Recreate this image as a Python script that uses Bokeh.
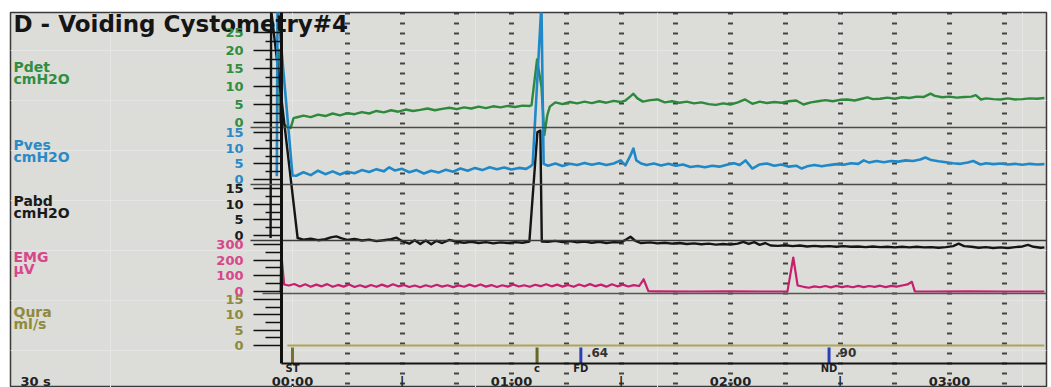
from bokeh.plotting import figure
from bokeh.models import Range1d, LinearAxis, FixedTicker, Grid, ColumnDataSource
from bokeh.core.properties import value
from bokeh.embed import file_html
from bokeh.resources import INLINE

# ---------------- data ----------------
TITLE = "D - Voiding Cystometry#4"

CHANNEL_NAMES = ["Pdet", "Pves", "Pabd", "EMG", "Qura"]
CHANNEL_UNITS = ["cmH2O", "cmH2O", "cmH2O", "µV", "ml/s"]
CHANNEL_TICKS = [[0, 5, 10, 15, 20, 25], [0, 5, 10, 15], [0, 5, 10, 15],
                 [0, 100, 200, 300], [0, 5, 10, 15]]
CHANNEL_MINOR = [[2.5, 7.5, 12.5, 17.5, 22.5], [2.5, 7.5, 12.5], [2.5, 7.5, 12.5],
                 [50, 150, 250], [2.5, 7.5, 12.5]]

# (time s, value)
PDET = [(-3.8, 20.5), (-3.4, 0.5), (-2.0, -0.8), (-0.5, -1.5), (0.3, 1.2), (1, 1.4), (3, 1.9),
        (5, 1.5), (7, 2.2), (9, 1.8), (11, 2.5), (13, 2.0), (15, 2.6), (17, 2.3), (19, 2.9),
        (21, 2.5), (23, 3.2), (25, 2.8), (27, 3.4), (29, 3.0), (31, 3.6), (33, 3.2), (35, 3.5),
        (37, 3.9), (39, 3.4), (41, 3.8), (43, 4.1), (45, 3.7), (47, 4.2), (49, 3.9), (51, 4.4),
        (53, 4.0), (55, 4.5), (57, 4.2), (59, 4.6), (61, 4.3), (63, 4.7), (65, 4.6), (65.5, 4.8),
        (67.0, 17.5), (68.2, 10.0), (69.0, -3.5), (69.8, 2.0), (70.5, 4.4), (72, 5.6), (74, 5.1),
        (76, 5.7), (78, 5.3), (80, 5.8), (82, 5.4), (84, 5.9), (86, 5.5), (88, 6.0), (90, 5.7),
        (91.2, 6.1), (92.5, 7.2), (93.4, 8.0), (94.5, 6.7), (96, 5.8), (98, 6.2), (100, 6.4),
        (102, 5.6), (104, 5.9), (106, 5.5), (108, 5.8), (110, 5.3), (112, 5.6), (114, 5.1),
        (116, 4.9), (118, 5.3), (120, 5.0), (122, 5.6), (124, 6.4), (126, 5.2), (128, 5.8),
        (130, 5.4), (132, 5.7), (134, 5.5), (136, 5.9), (138, 6.1), (140, 5.0), (142, 5.6),
        (144, 5.9), (146, 6.2), (148, 5.9), (150, 6.3), (152, 6.4), (154, 6.1), (156, 6.6),
        (157.5, 7.0), (159, 6.5), (161, 6.6), (163, 6.9), (165, 6.6), (167, 7.0), (169, 6.8),
        (171, 7.2), (173, 7.1), (174.8, 8.0), (176, 7.4), (178, 7.0), (180, 7.2), (182, 6.9),
        (184, 7.1), (186, 7.2), (187.2, 7.6), (188.6, 6.4), (190, 6.7), (192, 6.5), (194, 6.4),
        (196, 6.7), (198, 6.4), (200, 6.5), (202, 6.7), (204, 6.6), (206, 6.8)]

PVES = [(-4.3, 1.0), (-4.1, 56.0), (0.0, 1.3), (1, 1.2), (3, 2.3), (5, 1.4), (7, 2.8), (9, 1.7),
        (11, 2.6), (13, 1.6), (15, 2.5), (17, 2.0), (19, 3.0), (21, 2.4), (23, 3.3), (25, 2.6),
        (26.5, 3.9), (28, 2.9), (30, 3.4), (32, 2.3), (34, 3.0), (36, 1.9), (38, 2.8), (40, 2.2),
        (42, 3.1), (44, 2.5), (46, 3.5), (48, 2.8), (50, 3.7), (52, 3.0), (54, 3.9), (56, 3.3),
        (58, 3.8), (60, 3.2), (62, 3.7), (64, 3.4), (65.3, 4.3), (65.8, 4.8), (68.2, 56.0),
        (68.8, 5.0), (70, 4.4), (72, 5.1), (74, 4.3), (76, 5.0), (78, 4.6), (80, 5.3), (82, 4.7),
        (84, 5.2), (86, 4.6), (88, 5.1), (89.9, 6.1), (91.2, 4.5), (92.6, 7.7), (93.4, 9.9),
        (94.2, 6.1), (95.5, 5.1), (97, 4.6), (99, 5.1), (101, 4.5), (103, 5.0), (105, 4.4),
        (107, 4.8), (109, 4.0), (111, 4.3), (113, 3.9), (115, 4.4), (117, 4.1), (119, 4.7),
        (121, 5.2), (122.5, 4.6), (124.1, 6.1), (126, 3.5), (128, 4.8), (130, 5.1), (132, 4.4),
        (134, 4.8), (136, 4.1), (138, 4.4), (139.5, 3.5), (141, 4.2), (143, 4.6), (145, 4.2),
        (147, 4.6), (149, 4.9), (151, 4.7), (153, 5.2), (155, 5.0), (156.5, 6.1), (158, 5.4),
        (160, 5.9), (162, 5.5), (164, 5.9), (166, 5.7), (168, 6.1), (170, 5.9), (172, 6.4),
        (173.4, 7.0), (175, 6.2), (177, 5.8), (179, 5.5), (181, 5.2), (183, 5.0), (185, 5.4),
        (186.5, 5.9), (188.5, 4.8), (190, 5.2), (192, 4.9), (194, 5.1), (196, 4.8), (198, 5.0),
        (200, 4.7), (202, 5.0), (204, 4.8), (206, 4.9)]

PABD = [(-6.0, -0.8), (-5.85, 72.0), (1.4, -0.8), (3, -1.3), (5, -1.0), (7, -1.5), (9, -1.2),
        (10.5, -0.6), (12, -0.3), (13.5, -0.9), (15, -1.4), (17, -1.1), (19, -1.6), (21, -1.3),
        (23, -1.8), (25, -1.5), (27, -1.2), (28.5, -0.7), (30, -1.8), (32, -2.6), (33.5, -1.5),
        (35, -2.7), (36.5, -1.6), (38, -2.8), (39.5, -1.7), (41, -2.4), (43, -1.4), (45, -2.0),
        (47, -2.3), (49, -2.0), (51, -2.4), (53, -2.1), (55, -2.5), (57, -2.2), (59, -2.4),
        (61, -2.1), (63, -2.3), (64.9, -1.9), (67.1, 33.0), (67.9, 33.5), (68.3, -1.9),
        (70, -2.0), (72, -1.7), (74, -2.1), (76, -1.8), (78, -2.2), (80, -1.9), (82, -2.3),
        (84, -2.0), (86, -2.4), (88, -2.1), (90, -2.2), (91.5, -1.2), (92.6, -0.4), (93.8, -1.6),
        (95.5, -2.4), (98, -2.2), (100, -2.5), (102, -2.3), (104, -2.6), (106, -2.4), (108, -2.7),
        (110, -2.5), (112, -2.8), (114, -2.6), (116, -2.9), (118, -2.7), (120, -2.9), (122, -2.6),
        (123.5, -2.0), (125, -2.7), (126.5, -2.1), (128, -3.0), (129.5, -2.4), (131, -3.2),
        (133, -3.3), (135, -3.1), (137, -3.4), (139, -3.2), (141, -3.5), (143, -3.3), (145, -3.5),
        (147, -3.4), (149, -3.6), (151, -3.4), (153, -3.6), (155, -3.5), (157, -3.7), (159, -3.5),
        (161, -3.7), (163, -3.6), (165, -3.8), (167, -3.6), (169, -3.8), (171, -3.6), (173, -3.8),
        (175, -3.7), (177, -3.9), (179, -3.7), (181, -3.4), (182.5, -2.6), (184, -3.4),
        (186, -3.6), (188, -3.9), (190, -3.7), (192, -4.0), (194, -3.8), (196, -4.0), (198, -3.7),
        (200, -3.5), (201.5, -3.0), (203, -3.6), (205, -3.9), (206, -3.8)]

EMG = [(-3.3, -8), (-3.1, 248), (-2.3, 45), (-1, 38), (0.5, 48), (2, 32), (3.5, 46), (5, 30),
       (6.5, 44), (8, 33), (9.5, 47), (11, 30), (12.5, 42), (14, 31), (15.5, 45), (17, 29),
       (18.5, 40), (20, 28), (21.5, 41), (23, 30), (24.5, 44), (26, 31), (27.5, 46), (29, 33),
       (30.5, 41), (32, 29), (33.5, 38), (35, 27), (36.5, 40), (38, 30), (39.5, 43), (41, 31),
       (42.5, 40), (44, 28), (45.5, 39), (47, 30), (48.5, 44), (50, 32), (51.5, 45), (53, 31),
       (54.5, 41), (56, 29), (57.5, 40), (59, 31), (60.5, 45), (62, 32), (63.5, 40), (65, 30),
       (66.5, 43), (68, 34), (69.5, 46), (71, 33), (72.5, 44), (74, 31), (75.5, 42), (77, 30),
       (78.5, 45), (80, 33), (81.5, 47), (83, 34), (84.5, 44), (86, 31), (87.5, 46), (89, 33),
       (90.5, 44), (92, 32), (93.5, 41), (95, 35), (96.2, 78), (97.5, 2), (100, 1), (110, 0),
       (120, 1), (130, 0), (135.6, 1), (137.2, 217), (138.4, 38), (140, 30), (141.5, 24),
       (143, 33), (144.5, 27), (146, 35), (147.5, 26), (149, 36), (150.5, 28), (152, 34),
       (153.5, 27), (155, 36), (156.5, 28), (158, 35), (159.5, 30), (161, 37), (162.5, 28),
       (164, 36), (165.5, 31), (167, 38), (168.5, 45), (169.7, 62), (170.5, 1), (175, 0),
       (185, 1), (195, 0), (206, 0)]

QURA = [(-1.4, 0), (60, 0), (120, 0), (206, 0)]

EVENT_NAMES = ["ST", "c", "FD", "ND"]
EVENT_T = [0, 67, 79, 147]
NOTE_T = [79, 147]
NOTE_TEXT = [".64", ".90"]

TIME_TICKS = [0, 30, 60, 90, 120, 150, 180]
TIME_LABELS = ["00:00", "|", "01:00", "|", "02:00", "|", "03:00"]
GRID_TICKS = [15, 30, 45, 60, 75, 90, 105, 120, 135, 150, 165, 180, 195]
SCALE_NOTE = "30 s"

# ---------------- layout / style ----------------
W, H = 1051, 387
FRAME_L, FRAME_T, FRAME_R, FRAME_B = 10, 12, 1046, 387     # canvas pixels
T0_PX, PX_PER_S = 292.0, 3.65
AXIS_PX = 281
FONT = value("DejaVu Sans")


def t_at(px):
    return (px - T0_PX) / PX_PER_S


T_AXIS = t_at(AXIS_PX)

CH_KEYS = ["pdet", "pves", "pabd", "emg", "qura"]
CH_DATA = [PDET, PVES, PABD, EMG, QURA]
CH_COLORS = ["#2d8a3c", "#1f88c8", "#151515", "#c81e6e", "#aaa45c"]
CH_LABEL_COLORS = ["#2f8e40", "#2a8ac6", "#1a1a1a", "#d8468a", "#8f8a3c"]
CH_ZERO_PX = [122, 179, 235, 291, 345]
CH_PX_PER_UNIT = [3.6, 3.133, 3.133, 0.1567, 3.067]
CH_NAME_ROWS = [(66, 78), (144, 156), (200, 212), (256, 268), (311, 323)]
CH_WIDTH = [2.4, 2.6, 2.4, 2.2, 2.0]

p = figure(width=W, height=H, output_backend="svg", toolbar_location=None,
           x_range=Range1d(t_at(FRAME_L), t_at(FRAME_R)),
           y_range=Range1d(FRAME_B, FRAME_T),
           x_axis_location=None, y_axis_location=None,
           min_border_left=FRAME_L, min_border_top=FRAME_T,
           min_border_right=W - FRAME_R, min_border_bottom=H - FRAME_B,
           background_fill_color="#dcdcd8", border_fill_color="white",
           outline_line_color="#3a3a3a", outline_line_width=1.5)

# dashed vertical grid (short horizontal dashes)
grid = Grid(dimension=0, ticker=FixedTicker(ticks=GRID_TICKS),
            grid_line_color="#1e1e1e", grid_line_width=5, grid_line_dash="2 8",
            grid_line_alpha=0.8)
p.add_layout(grid)

extra = {}
for key, zero, s in zip(CH_KEYS, CH_ZERO_PX, CH_PX_PER_UNIT):
    extra[key] = Range1d((zero - FRAME_B) / s, (zero - FRAME_T) / s)
p.extra_y_ranges = extra

# separators between channel bands
SEPARATORS = [(127, 250, "#4a4a4a", 1.5), (184, 250, "#4a4a4a", 1.5),
              (239.5, 250, "#3a3a3a", 1.5), (293, 262, "#555555", 1.5),
              (363, AXIS_PX, "#151515", 2.0)]
for row, xs, col, w in SEPARATORS:
    ax = LinearAxis(fixed_location=row, bounds=(t_at(xs), t_at(FRAME_R)),
                    ticker=FixedTicker(ticks=[]), axis_line_color=col, axis_line_width=w,
                    major_tick_line_color=None, minor_tick_line_color=None,
                    major_label_text_font_size="0px")
    p.add_layout(ax, "below")

# traces
for i in (4, 3, 0, 2, 1):
    data = CH_DATA[i]
    ts = [d[0] for d in data]
    vs = [d[1] for d in data]
    p.line(ts, vs, y_range_name=CH_KEYS[i], line_color=CH_COLORS[i],
           line_width=CH_WIDTH[i], line_join="round")

# channel axes (ticks + coloured labels)
for i, key in enumerate(CH_KEYS):
    ax = LinearAxis(y_range_name=key, fixed_location=T_AXIS,
                    ticker=FixedTicker(ticks=CHANNEL_TICKS[i], minor_ticks=CHANNEL_MINOR[i]),
                    axis_line_color=None,
                    major_tick_out=28, major_tick_in=0, minor_tick_out=16, minor_tick_in=0,
                    major_tick_line_color="#111111", major_tick_line_width=1.5,
                    minor_tick_line_color="#111111", minor_tick_line_width=1.5,
                    major_label_text_color=CH_LABEL_COLORS[i],
                    major_label_text_font="DejaVu Sans", major_label_text_font_style="bold",
                    major_label_text_font_size="13px", major_label_standoff=10)
    p.add_layout(ax, "left")

# main vertical axis line
main_ax = LinearAxis(fixed_location=T_AXIS, bounds=(FRAME_T, 363),
                     ticker=FixedTicker(ticks=[]), axis_line_color="#111111", axis_line_width=3,
                     major_tick_line_color=None, minor_tick_line_color=None,
                     major_label_text_font_size="0px")
p.add_layout(main_ax, "left")

# time axis at the bottom edge
time_ax = LinearAxis(fixed_location=373, ticker=FixedTicker(ticks=TIME_TICKS),
                     major_label_overrides={t: l for t, l in zip(TIME_TICKS, TIME_LABELS)},
                     axis_line_color=None, major_tick_line_color=None, minor_tick_line_color=None,
                     major_tick_out=0, major_tick_in=0, major_label_standoff=0,
                     major_label_text_font="DejaVu Sans", major_label_text_font_style="bold",
                     major_label_text_font_size="13px", major_label_text_color="#222222")
p.add_layout(time_ax, "below")

# channel names at the left
nx, ny, ntext, ncol = [], [], [], []
for i in range(5):
    for row, txt in zip(CH_NAME_ROWS[i], (CHANNEL_NAMES[i], CHANNEL_UNITS[i])):
        nx.append(t_at(FRAME_L + 3))
        ny.append(row)
        ntext.append(txt)
        ncol.append(CH_LABEL_COLORS[i])
p.text(x="x", y="y", text="text", text_color="c",
       source=ColumnDataSource(dict(x=nx, y=ny, text=ntext, c=ncol)),
       text_font=FONT, text_font_style="bold", text_font_size=value("14px"),
       text_align="left", text_baseline="middle")

# title
p.text(x=[t_at(FRAME_L + 3)], y=[23], text=[TITLE],
       text_font=FONT, text_font_style="bold", text_font_size=value("23px"),
       text_color="#151515", text_align="left", text_baseline="alphabetic")

# event strip markers
EVENT_COLORS = ["#77722e", "#6a6528", "#2a40b8", "#2a40b8"]
p.segment(x0=EVENT_T, y0=347, x1=EVENT_T, y1=363, line_color=EVENT_COLORS, line_width=3)
p.text(x=EVENT_T, y=368, text=EVENT_NAMES, text_font=FONT, text_font_style="bold",
       text_font_size=value("10px"), text_color="#222222",
       text_align="center", text_baseline="middle")
p.text(x=NOTE_T, y=352, text=NOTE_TEXT, x_offset=6, text_font=FONT, text_font_style="bold",
       text_font_size=value("12px"), text_color="#333333",
       text_align="left", text_baseline="middle")
p.text(x=[t_at(20)], y=[373], text=[SCALE_NOTE], text_font=FONT, text_font_style="bold",
       text_font_size=value("13px"), text_color="#222222",
       text_align="left", text_baseline="top")

open("out.html", "w").write(file_html(p, INLINE))
